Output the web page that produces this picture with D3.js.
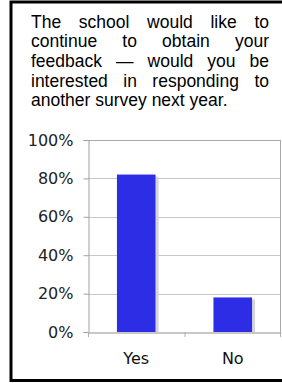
<!DOCTYPE html>
<html>
<head>
<meta charset="utf-8">
<script src="https://cdn.jsdelivr.net/npm/d3@7"></script>
<style>
  html, body { margin: 0; padding: 0; background: #fff; }
  svg { display: block; }
</style>
</head>
<body>
<div id="chart"></div>
<script>
// question text, one entry per printed line
var titleLines = [
    "The school would like to",
    "continue to obtain your",
    "feedback \u2014 would you be",
    "interested in responding to",
    "another survey next year."
];
var categories = ["Yes", "No"];
var values = [0.82, 0.18];
var yTicks = [0, 0.2, 0.4, 0.6, 0.8, 1.0];

var width = 282, height = 383;

var svg = d3.select("#chart").append("svg")
    .attr("width", width)
    .attr("height", height);

// frame (black border, left/top/bottom)
svg.append("path")
    .attr("d", "M 282 2 H 11 V 380.5 H 282")
    .attr("fill", "none")
    .attr("stroke", "#000")
    .attr("stroke-width", 3);

// title, justified line by line
var tx0 = 31, tx1 = 269, lineH = 19.7, firstBase = 27.5;
var title = svg.append("g")
    .attr("font-family", "'Liberation Sans', Arial, sans-serif")
    .attr("font-size", "17.5px")
    .attr("fill", "#000");

titleLines.forEach(function (line, li) {
    var words = line.split(" ");
    var y = firstBase + li * lineH;
    var nodes = words.map(function (w) {
        return title.append("text").attr("y", y).text(w);
    });
    var widths = nodes.map(function (n) { return n.node().getComputedTextLength(); });
    var total = d3.sum(widths);
    var gap;
    if (li < titleLines.length - 1 && words.length > 1) {
        gap = (tx1 - tx0 - total) / (words.length - 1);
    } else {
        gap = 17.5 * 0.278;
    }
    var x = tx0;
    nodes.forEach(function (n, i) {
        n.attr("x", x);
        x += widths[i] + gap;
    });
});

// chart area
var margin = { top: 140, right: 1, bottom: 51, left: 88 };
var plotW = width - margin.left - margin.right,
    plotH = height - margin.top - margin.bottom;

var x = d3.scaleBand()
    .domain(categories)
    .range([0, plotW])
    .paddingInner(0.6)
    .paddingOuter(0.3);

var y = d3.scaleLinear()
    .domain([0, 1])
    .range([plotH, 0]);

var g = svg.append("g")
    .attr("transform", "translate(" + margin.left + "," + margin.top + ")");

// grid lines
g.selectAll("line.grid")
    .data(yTicks.filter(function (d) { return d > 0; }))
    .enter().append("line")
    .attr("class", "grid")
    .attr("x1", 0)
    .attr("x2", plotW)
    .attr("y1", function (d) { return Math.round(y(d)) + 0.5; })
    .attr("y2", function (d) { return Math.round(y(d)) + 0.5; })
    .attr("stroke", function (d) { return d === 1 ? "#a8a8a8" : "#c8c8c8"; })
    .attr("stroke-width", 1);

// right edge of plot
g.append("line")
    .attr("x1", plotW - 0.5).attr("x2", plotW - 0.5)
    .attr("y1", y(1)).attr("y2", y(0))
    .attr("stroke", "#a8a8a8");

// bar shadows
g.selectAll("rect.shadow")
    .data(values)
    .enter().append("rect")
    .attr("class", "shadow")
    .attr("x", function (d, i) { return x(categories[i]) + x.bandwidth(); })
    .attr("y", function (d) { return y(d) + 2; })
    .attr("width", 3)
    .attr("height", function (d) { return y(0) - y(d) - 2; })
    .attr("fill", "#d4d4d8");

// bars
g.selectAll("rect.bar")
    .data(values)
    .enter().append("rect")
    .attr("class", "bar")
    .attr("x", function (d, i) { return x(categories[i]); })
    .attr("y", function (d) { return y(d); })
    .attr("width", x.bandwidth())
    .attr("height", function (d) { return y(0) - y(d); })
    .attr("fill", "#2d2de6");

// y axis
var yAxis = g.append("g")
    .attr("transform", "translate(0.5,0)")
    .call(d3.axisLeft(y)
        .tickValues(yTicks)
        .tickFormat(d3.format(".0%"))
        .tickSize(5)
        .tickPadding(10));
yAxis.select(".domain").attr("stroke", "#a0a0a0");
yAxis.selectAll(".tick line").attr("stroke", "#a0a0a0");
yAxis.selectAll(".tick text")
    .attr("font-family", "'DejaVu Sans', Verdana, sans-serif")
    .attr("font-size", "16px")
    .attr("fill", "#222");

// x axis
var xAxis = g.append("g")
    .attr("transform", "translate(0," + (plotH + 0.5) + ")")
    .call(d3.axisBottom(x).tickSize(0).tickPadding(20));
xAxis.select(".domain").attr("stroke", "#909090");
xAxis.selectAll(".tick text")
    .attr("font-family", "'DejaVu Sans', Verdana, sans-serif")
    .attr("font-size", "16px")
    .attr("fill", "#111");

// category separator ticks
g.selectAll("line.ctick")
    .data([0, 1, 2])
    .enter().append("line")
    .attr("class", "ctick")
    .attr("x1", function (d) { return Math.min(d * x.step() + 0.5, plotW - 0.5); })
    .attr("x2", function (d) { return Math.min(d * x.step() + 0.5, plotW - 0.5); })
    .attr("y1", plotH)
    .attr("y2", plotH + 5)
    .attr("stroke", "#b0b0b0");
</script>
</body>
</html>
